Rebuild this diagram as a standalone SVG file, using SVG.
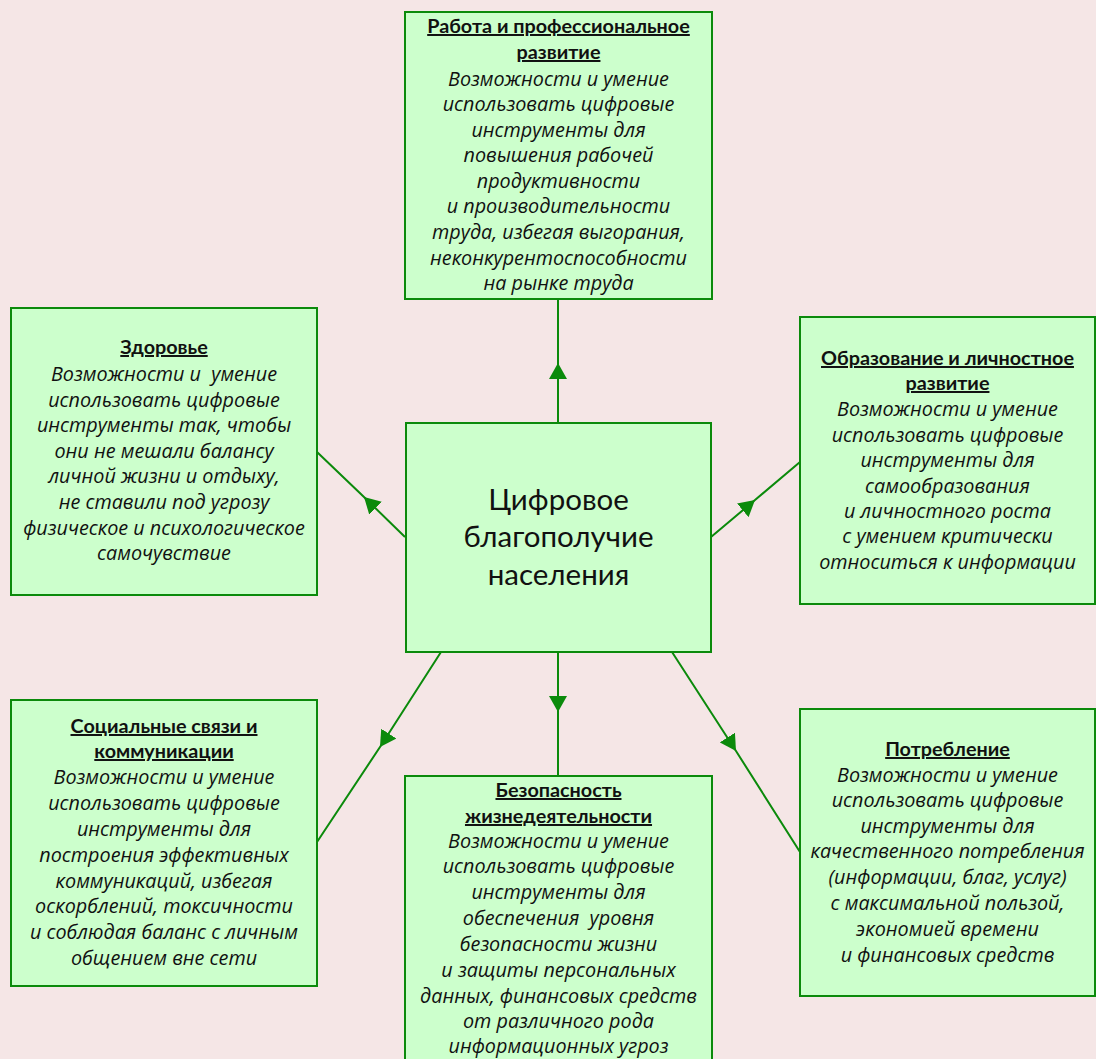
<svg xmlns="http://www.w3.org/2000/svg" width="1096" height="1059" viewBox="0 0 1096 1059">
<style>
.box{fill:#ccffcc;stroke:#0b8a0b;stroke-width:2}
.t{font-family:Lato,"Open Sans","Liberation Sans",sans-serif;font-size:19.8px;fill:#111;text-anchor:middle}
.h{font-weight:bold;text-decoration:underline}
.i{font-family:"Open Sans","Noto Sans",sans-serif;font-style:italic;font-size:19.8px}
.c{font-family:Lato,"Open Sans","Liberation Sans",sans-serif;font-size:29.5px;fill:#111;text-anchor:middle}
.con{fill:none;stroke:#0b8a0b;stroke-width:2;marker-mid:url(#ah)}
</style>
<defs>
<marker id="ah" viewBox="0 0 16 18" refX="16" refY="9" markerWidth="16" markerHeight="18" markerUnits="userSpaceOnUse" orient="auto">
<path d="M0,0 L16,9 L0,18 Z" fill="#0b8a0b"/>
</marker>
</defs>
<rect x="0" y="0" width="1096" height="1059" fill="#f5e6e6"/>
<g id="connectors">
<path class="con" d="M558,423 L558,363 L558,299"/>
<path class="con" d="M405,537 L364,497 L317,452"/>
<path class="con" d="M711,537 L755,500 L800,462"/>
<path class="con" d="M558,652 L558,712 L558,776"/>
<path class="con" d="M441,652 L380,747 L317,842"/>
<path class="con" d="M672,652 L736,751 L800,852"/>
</g>
<g id="center">
<rect class="box" x="406" y="423" width="305" height="229"/>
<text class="c" x="558.5" y="510">Цифровое</text>
<text class="c" x="558.5" y="547">благополучие</text>
<text class="c" x="558.5" y="585">населения</text>
</g>
<g id="work">
<rect class="box" x="405" y="12" width="307" height="287"/>
<text class="t" x="558.5"><tspan class="h" x="558.5" y="33">Работа и профессиональное</tspan><tspan class="h" x="558.5" y="59">развитие</tspan><tspan class="i" x="558.5" y="86">Возможности и умение</tspan><tspan class="i" x="558.5" y="111">использовать цифровые</tspan><tspan class="i" x="558.5" y="137">инструменты для</tspan><tspan class="i" x="558.5" y="162">повышения рабочей</tspan><tspan class="i" x="558.5" y="188">продуктивности</tspan><tspan class="i" x="558.5" y="213">и производительности</tspan><tspan class="i" x="558.5" y="239">труда, избегая выгорания,</tspan><tspan class="i" x="558.5" y="265">неконкурентоспособности</tspan><tspan class="i" x="558.5" y="290">на рынке труда</tspan></text>
</g>
<g id="health">
<rect class="box" x="11" y="308" width="306" height="287"/>
<text class="t"><tspan class="h" x="164" y="354">Здоровье</tspan><tspan class="i" x="164" y="381" xml:space="preserve">Возможности и  умение</tspan><tspan class="i" x="164" y="407">использовать цифровые</tspan><tspan class="i" x="164" y="432">инструменты так, чтобы</tspan><tspan class="i" x="164" y="458">они не мешали балансу</tspan><tspan class="i" x="164" y="483">личной жизни и отдыху,</tspan><tspan class="i" x="164" y="509">не ставили под угрозу</tspan><tspan class="i" x="164" y="535">физическое и психологическое</tspan><tspan class="i" x="164" y="560">самочувствие</tspan></text>
</g>
<g id="education">
<rect class="box" x="800" y="317" width="295" height="287"/>
<text class="t"><tspan class="h" x="947.5" y="365">Образование и личностное</tspan><tspan class="h" x="947.5" y="390">развитие</tspan><tspan class="i" x="947.5" y="416">Возможности и умение</tspan><tspan class="i" x="947.5" y="442">использовать цифровые</tspan><tspan class="i" x="947.5" y="467">инструменты для</tspan><tspan class="i" x="947.5" y="493">самообразования</tspan><tspan class="i" x="947.5" y="518">и личностного роста</tspan><tspan class="i" x="947.5" y="543">с умением критически</tspan><tspan class="i" x="947.5" y="569">относиться к информации</tspan></text>
</g>
<g id="social">
<rect class="box" x="11" y="700" width="306" height="286"/>
<text class="t"><tspan class="h" x="164" y="733">Социальные связи и</tspan><tspan class="h" x="164" y="758">коммуникации</tspan><tspan class="i" x="164" y="784">Возможности и умение</tspan><tspan class="i" x="164" y="810">использовать цифровые</tspan><tspan class="i" x="164" y="836">инструменты для</tspan><tspan class="i" x="164" y="862">построения эффективных</tspan><tspan class="i" x="164" y="888">коммуникаций, избегая</tspan><tspan class="i" x="164" y="913">оскорблений, токсичности</tspan><tspan class="i" x="164" y="939">и соблюдая баланс с личным</tspan><tspan class="i" x="164" y="965">общением вне сети</tspan></text>
</g>
<g id="safety">
<rect class="box" x="405" y="776" width="307" height="300"/>
<text class="t"><tspan class="h" x="558.5" y="797">Безопасность</tspan><tspan class="h" x="558.5" y="823">жизнедеятельности</tspan><tspan class="i" x="558.5" y="848">Возможности и умение</tspan><tspan class="i" x="558.5" y="873">использовать цифровые</tspan><tspan class="i" x="558.5" y="899">инструменты для</tspan><tspan class="i" x="558.5" y="925" xml:space="preserve">обеспечения  уровня</tspan><tspan class="i" x="558.5" y="951">безопасности жизни</tspan><tspan class="i" x="558.5" y="977">и защиты персональных</tspan><tspan class="i" x="558.5" y="1003">данных, финансовых средств</tspan><tspan class="i" x="558.5" y="1028">от различного рода</tspan><tspan class="i" x="558.5" y="1053">информационных угроз</tspan></text>
</g>
<g id="consumption">
<rect class="box" x="800" y="709" width="295" height="287"/>
<text class="t"><tspan class="h" x="947.5" y="756">Потребление</tspan><tspan class="i" x="947.5" y="782">Возможности и умение</tspan><tspan class="i" x="947.5" y="807">использовать цифровые</tspan><tspan class="i" x="947.5" y="833">инструменты для</tspan><tspan class="i" x="947.5" y="858">качественного потребления</tspan><tspan class="i" x="947.5" y="884">(информации, благ, услуг)</tspan><tspan class="i" x="947.5" y="910">с максимальной пользой,</tspan><tspan class="i" x="947.5" y="936">экономией времени</tspan><tspan class="i" x="947.5" y="962">и финансовых средств</tspan></text>
</g>
</svg>
